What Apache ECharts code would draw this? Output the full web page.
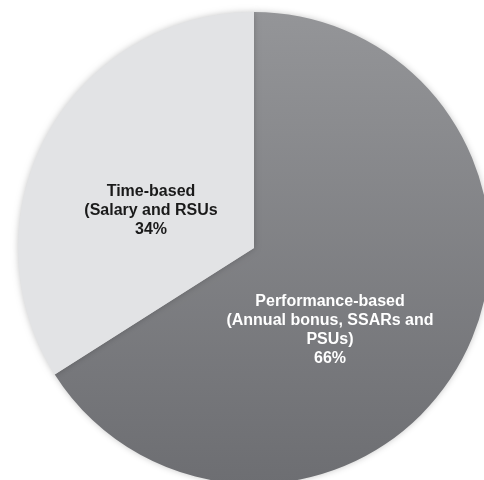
<!DOCTYPE html>
<html>
<head>
<meta charset="utf-8">
<script src="https://cdn.jsdelivr.net/npm/echarts@6/dist/echarts.min.js"></script>
<style>
html,body{margin:0;padding:0;background:#fff;}
#chart{width:484px;height:480px;}
</style>
</head>
<body>
<div id="chart"></div>
<script>
var categories = ["Performance-based\n(Annual bonus, SSARs and\nPSUs)", "Time-based\n(Salary and RSUs"];
var values = [66, 34];

var labelPos = [[330, 330], [151, 211]];
var sliceColors = [
  {type:'linear', x:0, y:0, x2:0, y2:1, colorStops:[{offset:0,color:'#949598'},{offset:1,color:'#6d6e72'}]},
  '#e2e3e5'
];
var labelColors = ['#ffffff', '#1a1a1a'];

var chart = echarts.init(document.getElementById('chart'));
chart.setOption({
  backgroundColor: '#ffffff',
  animation: false,
  series: [{
    type: 'pie',
    center: [254, 248],
    radius: 236,
    startAngle: 90,
    clockwise: true,
    silent: true,
    label: {
      show: true,
      position: 'inside',
      fontFamily: 'Liberation Sans, Arial, sans-serif',
      fontWeight: 'bold',
      fontSize: 16,
      lineHeight: 19,
      align: 'center',
      formatter: function (p) { return p.name + '\n' + p.value + '%'; }
    },
    labelLayout: function (params) {
      var pos = labelPos[params.dataIndex];
      return { x: pos[0], y: pos[1], align: 'center', verticalAlign: 'middle' };
    },
    labelLine: { show: false },
    itemStyle: {
      borderWidth: 0,
      shadowBlur: 6,
      shadowColor: 'rgba(0,0,0,0.22)'
    },
    data: categories.map(function (c, i) {
      return {
        name: c,
        value: values[i],
        itemStyle: { color: sliceColors[i] },
        label: { color: labelColors[i] }
      };
    })
  }]
});
</script>
</body>
</html>
